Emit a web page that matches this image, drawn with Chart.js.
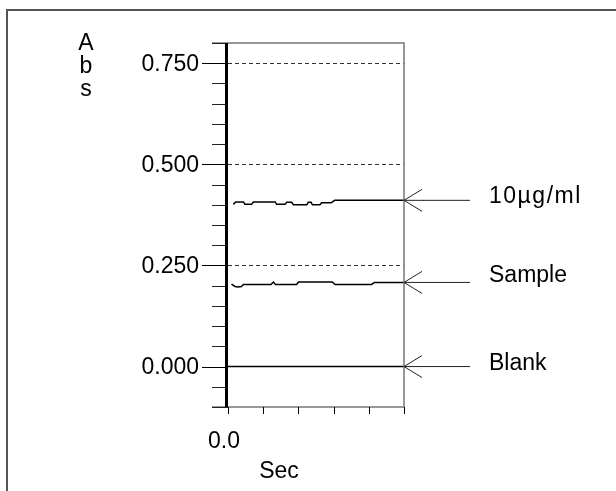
<!DOCTYPE html>
<html>
<head>
<meta charset="utf-8">
<script src="https://cdn.jsdelivr.net/npm/chart.js@4/dist/chart.umd.min.js"></script>
<style>
  html, body { margin: 0; padding: 0; background: #fff; }
  canvas { display: block; }
</style>
</head>
<body>
<canvas id="c" width="616" height="491"></canvas>
<script>
// Absorbance traces (time in tick divisions, absorbance in Abs)
const stdTime  = [0.15, 0.22, 0.44, 0.48, 0.67, 0.72, 1.34, 1.38, 1.62, 1.67, 1.81, 1.86, 2.24, 2.28, 2.36, 2.40, 2.61, 2.66, 2.93, 3.03, 5.00];
const stdAbs   = [0.401, 0.407, 0.407, 0.401, 0.401, 0.407, 0.407, 0.401, 0.401, 0.406, 0.406, 0.400, 0.400, 0.406, 0.406, 0.400, 0.400, 0.405, 0.405, 0.411, 0.411];

const sampleTime = [0.10, 0.20, 0.28, 0.38, 0.44, 1.22, 1.29, 1.35, 1.95, 2.00, 2.96, 3.04, 4.08, 4.16, 5.00];
const sampleAbs  = [0.204, 0.198, 0.197, 0.198, 0.203, 0.203, 0.209, 0.203, 0.203, 0.209, 0.209, 0.203, 0.203, 0.208, 0.208];

const blankTime = [0, 5];
const blankAbs  = [0.000, 0.000];

const traceNames = ["10µg/ml", "Sample", "Blank"];

// Axis ticks
const yMajorTicks  = [0.000, 0.250, 0.500, 0.750];
const yTickLabels  = ["0.000", "0.250", "0.500", "0.750"];
const yDashedGrid  = [0.250, 0.500, 0.750];
const yMinorStep   = 0.05;
const yRange       = [-0.1, 0.8];
const xTicks       = [0, 1, 2, 3, 4, 5];
const xTickLabels  = ["0.0"];
const xRange       = [0, 5];
const yTitle       = ["A", "b", "s"];
const xTitle       = "Sec";

const FONT = '23px "Liberation Sans", Arial, sans-serif';

function pts(xs, ys) { return xs.map((x, i) => ({ x: x, y: ys[i] })); }

const decor = {
  id: 'decor',
  beforeDatasetsDraw(chart) {
    const ctx = chart.ctx, a = chart.chartArea;
    const ys = chart.scales.y;
    ctx.save();
    // dashed reference levels
    ctx.strokeStyle = '#333';
    ctx.lineWidth = 1;
    ctx.setLineDash([4, 3]);
    yDashedGrid.forEach(v => {
      const y = Math.round(ys.getPixelForValue(v)) + 0.5;
      ctx.beginPath(); ctx.moveTo(a.left, y); ctx.lineTo(a.right, y); ctx.stroke();
    });
    ctx.setLineDash([]);
    ctx.restore();
  },
  afterDatasetsDraw(chart) {
    const ctx = chart.ctx, a = chart.chartArea;
    const xs = chart.scales.x, ys = chart.scales.y;
    ctx.save();

    // outer frame
    ctx.strokeStyle = '#555';
    ctx.lineWidth = 2;
    ctx.beginPath(); ctx.moveTo(616, 10); ctx.lineTo(7, 10); ctx.lineTo(7, 491); ctx.stroke();

    // plot box: top, right, bottom
    ctx.strokeStyle = '#777';
    ctx.lineWidth = 1.5;
    ctx.beginPath();
    ctx.moveTo(a.left - 16, a.top); ctx.lineTo(a.right, a.top);
    ctx.lineTo(a.right, a.bottom); ctx.lineTo(a.left - 16, a.bottom);
    ctx.stroke();

    // minor y ticks
    ctx.strokeStyle = '#222';
    ctx.lineWidth = 1;
    const n = Math.round((yRange[1] - yRange[0]) / yMinorStep);
    for (let i = 0; i <= n; i++) {
      const v = yRange[0] + i * yMinorStep;
      const y = Math.round(ys.getPixelForValue(v)) + 0.5;
      ctx.beginPath(); ctx.moveTo(a.left - 16, y); ctx.lineTo(a.left, y); ctx.stroke();
    }
    // major y ticks
    ctx.strokeStyle = '#000';
    yMajorTicks.forEach(v => {
      const y = Math.round(ys.getPixelForValue(v)) + 0.5;
      ctx.beginPath(); ctx.moveTo(a.left - 26, y); ctx.lineTo(a.left, y); ctx.stroke();
    });

    // x ticks below the axis
    ctx.strokeStyle = '#000';
    xTicks.forEach(v => {
      const x = Math.round(xs.getPixelForValue(v)) + 0.5;
      ctx.beginPath(); ctx.moveTo(x, a.bottom); ctx.lineTo(x, a.bottom + 7); ctx.stroke();
    });

    // heavy y axis line
    ctx.strokeStyle = '#000';
    ctx.lineWidth = 3;
    ctx.beginPath(); ctx.moveTo(a.left - 1.5, a.top); ctx.lineTo(a.left - 1.5, a.bottom); ctx.stroke();

    // tick labels
    ctx.fillStyle = '#000';
    ctx.font = FONT;
    ctx.textAlign = 'right';
    ctx.textBaseline = 'middle';
    yMajorTicks.forEach((v, i) => {
      ctx.fillText(yTickLabels[i], a.left - 29, ys.getPixelForValue(v) + 1);
    });
    ctx.textAlign = 'center';
    ctx.textBaseline = 'alphabetic';
    xTickLabels.forEach((t, i) => {
      ctx.fillText(t, xs.getPixelForValue(xTicks[i]) - 4, a.bottom + 41);
    });

    // axis titles
    ctx.fillText(xTitle, 279, a.bottom + 71);
    yTitle.forEach((ch, i) => ctx.fillText(ch, 86, 50 + i * 23));

    // arrows pointing at each trace's final reading
    const labelDy = [3, 0, 3.5];
    ctx.strokeStyle = '#222';
    ctx.lineWidth = 1;
    chart.data.datasets.forEach((ds, i) => {
      const last = ds.data[ds.data.length - 1];
      const y = ys.getPixelForValue(last.y);
      const x0 = a.right;
      ctx.beginPath();
      ctx.moveTo(x0, y); ctx.lineTo(x0 + 66, y);
      ctx.moveTo(x0 + 18, y - 11); ctx.lineTo(x0, y); ctx.lineTo(x0 + 18, y + 11);
      ctx.stroke();
      ctx.textAlign = 'left';
      ctx.letterSpacing = i === 0 ? '1.5px' : '0px';
      ctx.fillText(ds.label, x0 + 85, y + labelDy[i]);
    });
    ctx.letterSpacing = '0px';

    ctx.restore();
  }
};

new Chart(document.getElementById('c'), {
  type: 'line',
  data: {
    datasets: [
      { label: traceNames[0], data: pts(stdTime, stdAbs) },
      { label: traceNames[1], data: pts(sampleTime, sampleAbs) },
      { label: traceNames[2], data: pts(blankTime, blankAbs) }
    ].map(d => Object.assign(d, {
      borderColor: '#000', borderWidth: 1.5, pointRadius: 0, tension: 0, fill: false
    }))
  },
  options: {
    responsive: false,
    animation: false,
    events: [],
    layout: { padding: { left: 228, right: 212, top: 43, bottom: 84 } },
    scales: {
      x: { type: 'linear', min: xRange[0], max: xRange[1], display: false },
      y: { type: 'linear', min: yRange[0], max: yRange[1], display: false }
    },
    plugins: { legend: { display: false }, tooltip: { enabled: false } }
  },
  plugins: [decor]
});
</script>
</body>
</html>
